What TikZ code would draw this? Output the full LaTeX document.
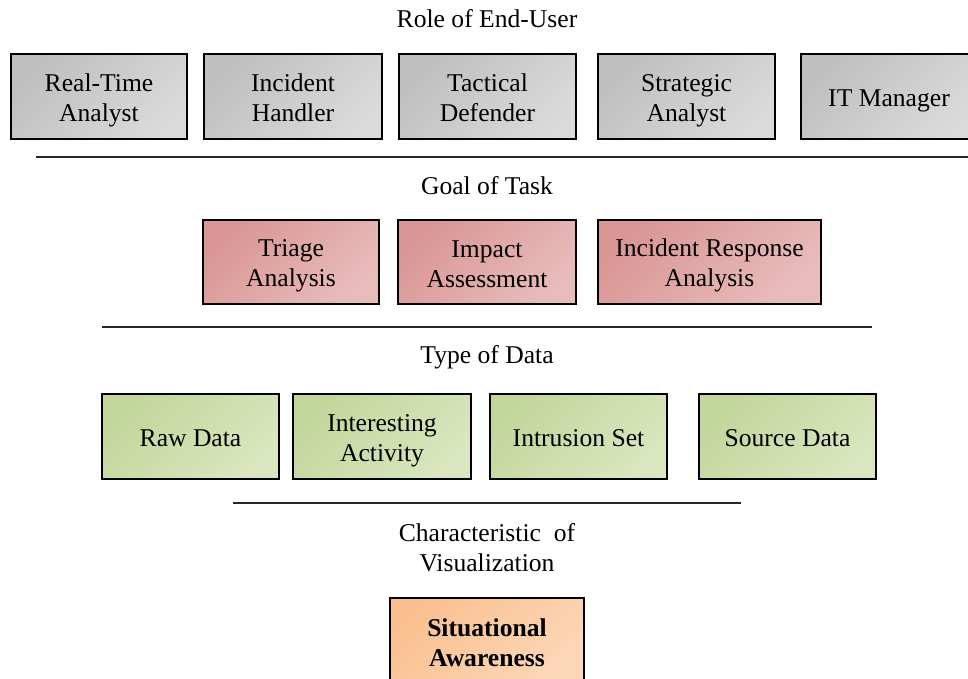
\documentclass[tikz,border=0pt]{standalone}
\usepackage{fontspec}
\setmainfont{Liberation Serif}
\definecolor{grayA}{HTML}{BFBFBF}
\definecolor{grayB}{HTML}{DADADA}
\definecolor{redA}{HTML}{D99694}
\definecolor{redB}{HTML}{E8BCBB}
\definecolor{greenA}{HTML}{C3D69B}
\definecolor{greenB}{HTML}{D9E6BF}
\definecolor{orangeA}{HTML}{FAC090}
\definecolor{orangeB}{HTML}{FCD7B8}
\newcommand{\boxstrut}{\rule[-4.8pt]{0pt}{30pt}}
\newcommand{\boxfont}{\fontsize{25.6}{30}\selectfont\lineskiplimit=-10pt\relax}
\newcommand{\twolines}[2]{\boxstrut#1\\#2}
\tikzset{
    box/.style={draw=black, line width=2pt, inner sep=0pt, minimum height=85pt,
        align=center, font=\boxfont, execute at end node=\boxstrut},
    rolebox/.style={box, top color=grayA, bottom color=grayB, shading angle=45},
    goalbox/.style={box, top color=redA, bottom color=redB, shading angle=45},
    databox/.style={box, top color=greenA, bottom color=greenB, shading angle=45},
    visbox/.style={box, top color=orangeA, bottom color=orangeB, shading angle=45},
    heading/.style={align=center, font=\fontsize{25.6}{30}\selectfont},
    rule/.style={black!85, line width=1.6pt}
}
\begin{document}
\begin{tikzpicture}[x=1pt, y=-1pt]
         \useasboundingbox (0,0) rectangle (968,679);
         \clip (0,0) rectangle (968,679);

         \node[heading] (role) at (487,19) {Role of End-User};
         \node[rolebox, minimum width=176pt] (rta) at (99,96.5) {\twolines{Real-Time}{Analyst}};
         \node[rolebox, minimum width=178pt] (ih) at (293,96.5) {\twolines{Incident}{Handler}};
         \node[rolebox, minimum width=177pt] (td) at (487.5,96.5) {\twolines{Tactical}{Defender}};
         \node[rolebox, minimum width=177pt] (sa) at (686.5,96.5) {\twolines{Strategic}{Analyst}};
         \node[rolebox, minimum width=176pt] (itm) at (889,96.5) {IT Manager};
         \draw[rule] (36,157) -- (968,157);

         \node[heading] (goal) at (487,186) {Goal of Task};
         \node[goalbox, minimum width=176pt, minimum height=84pt] (tri) at (291,262) {\twolines{Triage}{Analysis}};
         \node[goalbox, minimum width=178pt, minimum height=84pt] (imp) at (487,262) {\twolines{Impact}{Assessment}};
         \node[goalbox, minimum width=223pt, minimum height=84pt] (ira) at (709.5,262) {\twolines{Incident Response}{Analysis}};
         \draw[rule] (102,327) -- (872,327);

         \node[heading] (type) at (487,357) {Type of Data};
         \node[databox, minimum width=177pt] (raw) at (190.5,436.5) {Raw Data};
         \node[databox, minimum width=178pt] (act) at (382,436.5) {\twolines{Interesting}{Activity}};
         \node[databox, minimum width=177pt] (ins) at (578.5,436.5) {Intrusion Set};
         \node[databox, minimum width=177pt] (src) at (787.5,436.5) {Source Data};
         \draw[rule] (233,503) -- (741,503);

         \node[heading] (char) at (487,548) {Characteristic\ \ of\\Visualization};
         \node[visbox, minimum width=194pt, minimum height=87pt] (sit) at (487,641.5) {\twolines{\bfseries Situational}{\bfseries Awareness}};
\end{tikzpicture}
\end{document}
